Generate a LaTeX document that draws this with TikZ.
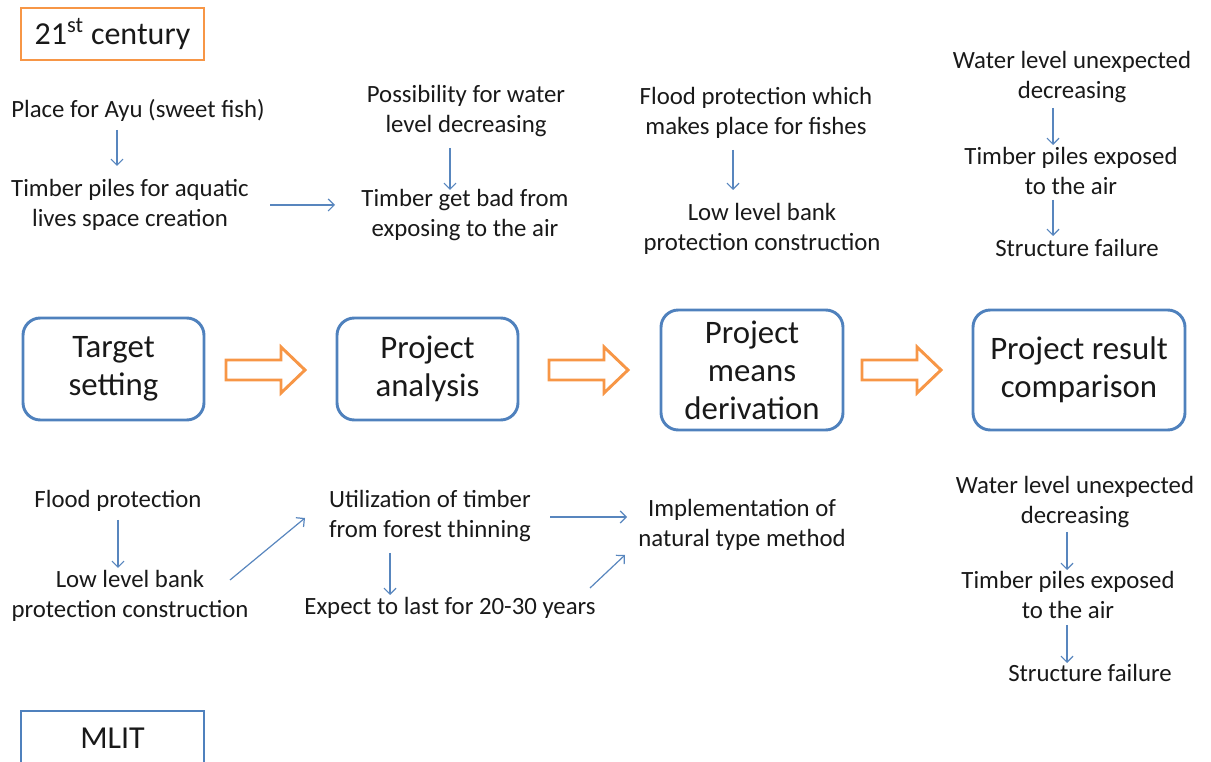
\documentclass[tikz,border=0pt]{standalone}
\usepackage{fontspec}
\setmainfont{Carlito}
\usetikzlibrary{arrows.meta,calc}
\definecolor{boxblue}{RGB}{79,129,189}
\definecolor{orng}{RGB}{247,150,70}
\definecolor{lineblue}{RGB}{88,134,190}
\definecolor{txtcol}{RGB}{25,25,25}
\begin{document}
\begin{tikzpicture}[x=0.75pt,y=-0.75pt,
  txt/.style={font=\fontsize{18.6}{22.5}\selectfont, align=center, inner sep=0pt, text=txtcol},
  stage/.style={draw=boxblue, line width=2.2pt, rounded corners=13pt, align=center,
    font=\fontsize{24.6}{28.5}\selectfont, text=txtcol, inner sep=0pt},
  label box/.style={line width=2.2pt, font=\fontsize{24}{28.5}\selectfont, text=txtcol,
    inner sep=0pt, minimum width=137.25pt},
  arr/.style={draw=lineblue, line width=0.9pt, -{Straight Barb[length=4.5pt,width=9pt]}},
  blk/.style={draw=orng, line width=2.2pt, fill=white, line join=miter},
  blockarr/.pic={\path[blk] (0,-10) -- (55,-10) -- (55,-23) -- (79,0) -- (55,23) -- (55,10) -- (0,10) -- cycle;}]
\useasboundingbox (0,0) rectangle (1211,762);

% label boxes
\node[label box, draw=orng, minimum height=39pt] (cent) at (112.5,34) {21\textsuperscript{st} century};
\node[label box, draw=boxblue, minimum height=40.5pt] (mlit) at (112.5,738) {MLIT};

% stage boxes
\node[stage, minimum width=135.75pt, minimum height=76.5pt] (s1) at (113.5,369) {Target\\setting};
\node[stage, minimum width=135.75pt, minimum height=76.5pt] (s2) at (427.5,369) {Project\\analysis};
\node[stage, minimum width=136.5pt, minimum height=90pt] (s3) at (752,370) {Project\\means\\derivation};
\node[stage, minimum width=159pt, minimum height=90pt] (s4) at (1079,370) {Project result\\comparison};

% block arrows
\pic at (226,370) {blockarr};
\pic at (549,370) {blockarr};
\pic at (862,370) {blockarr};

% top texts
\node[txt] (p1) at (138,110) {Place for Ayu (sweet fish)};
\node[txt] (p2) at (130,205) {Timber piles for aquatic\\lives space creation};
\node[txt] (p3) at (466,111) {Possibility for water\\level decreasing};
\node[txt] (p4) at (465,215) {Timber get bad from\\exposing to the air};
\node[txt] (p5) at (756,113) {Flood protection which\\makes place for fishes};
\node[txt] (p6) at (762,229) {Low level bank\\protection construction};
\node[txt] (p7) at (1072,77) {Water level unexpected\\decreasing};
\node[txt] (p8) at (1071,171) {Timber piles exposed\\to the air};
\node[txt] (p9) at (1077,248) {Structure failure};

\draw[arr] ($(p1)+(-21,20)$) -- ($(p2)+(-13,-39)$);
\draw[arr] ($(p2)+(140,0)$) -- ($(p4)+(-130,-10)$);
\draw[arr] ($(p3)+(-16,37)$) -- ($(p4)+(-15,-25)$);
\draw[arr] ($(p5)+(-23,37)$) -- ($(p6)+(-29,-39)$);
\draw[arr] ($(p7)+(-19,31)$) -- ($(p8)+(-18,-26)$);
\draw[arr] ($(p8)+(-18,29)$) -- ($(p9)+(-24,-12)$);

% bottom texts
\node[txt] (q1) at (118,501) {Flood protection};
\node[txt] (q2) at (130,596) {Low level bank\\protection construction};
\node[txt] (q3) at (430,516) {Utilization of timber\\from forest thinning};
\node[txt] (q4) at (450,608) {Expect to last for 20-30 years};
\node[txt] (q5) at (742,525) {Implementation of\\natural type method};
\node[txt] (r1) at (1075,502) {Water level unexpected\\decreasing};
\node[txt] (r2) at (1068,595) {Timber piles exposed\\to the air};
\node[txt] (r3) at (1090,673) {Structure failure};

\draw[arr] ($(q1)+(0,19)$) -- ($(q2)+(-12,-28)$);
\draw[arr] ($(q2)+(100,-16)$) -- ($(q3)+(-125,2)$);
\draw[arr] ($(q3)+(-40,37)$) -- ($(q4)+(-60,-13)$);
\draw[arr] ($(q3)+(120,1)$) -- ($(q5)+(-115,-8)$);
\draw[arr] ($(q4)+(140,-20)$) -- ($(q5)+(-117,30)$);
\draw[arr] ($(r1)+(-8,30)$) -- ($(r2)+(-1,-25)$);
\draw[arr] ($(r2)+(-1,30)$) -- ($(r3)+(-23,-10)$);
\end{tikzpicture}
\end{document}
